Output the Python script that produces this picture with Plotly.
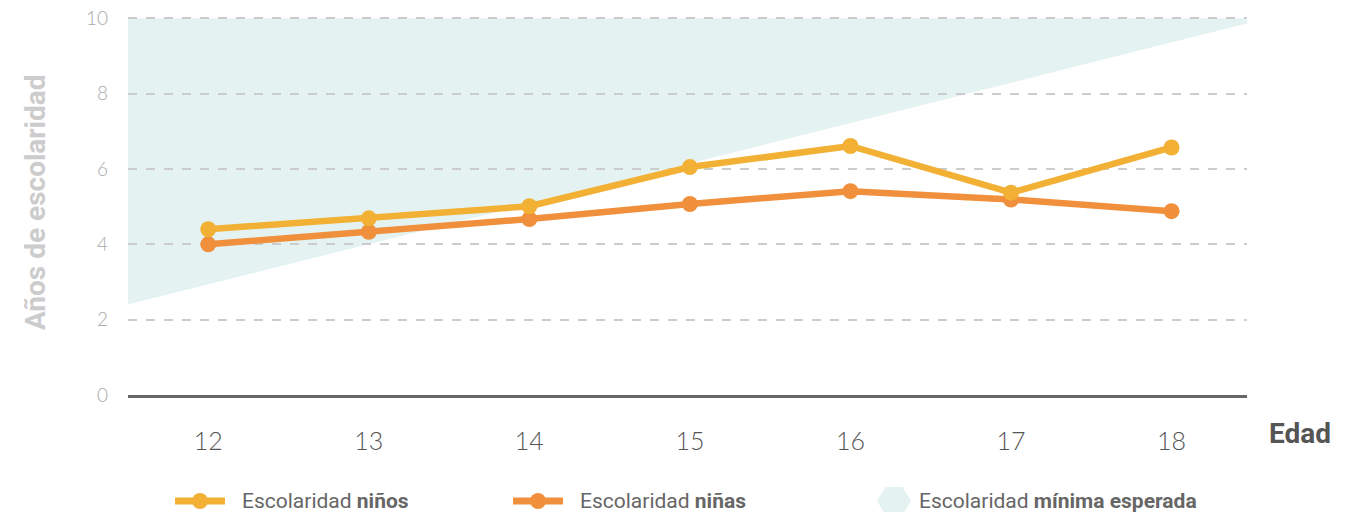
import plotly.graph_objects as go

# ---- data ----
edades = [12, 13, 14, 15, 16, 17, 18]
ninos = [4.40, 4.69, 5.01, 6.05, 6.61, 5.37, 6.57]
ninas = [4.00, 4.33, 4.67, 5.07, 5.41, 5.19, 4.88]
minimo_x = [11.50, 18.47, 18.47, 11.50]
minimo_y = [2.40, 9.86, 10.0, 10.0]
y_ticks = [0, 2, 4, 6, 8, 10]

C_NINOS = "#f2b134"
C_NINAS = "#f0903c"
C_MIN = "#e4f3f2"

# the page body keeps its default 8px margin: size the figure to fit inside the window
OFF = 8
W, H = 1346 - 2 * OFF, 520 - 2 * OFF
L, R, T, B = 128 - OFF, 99 - OFF, 16 - OFF, 125 - OFF
PW = W - L - R
PH = H - T - B


def px(x):
    return (x - OFF - L) / PW


def py(y):
    return (H - B - (y - OFF)) / PH


fig = go.Figure()
fig.add_trace(go.Scatter(x=edades, y=ninas, mode="lines+markers",
                         line=dict(color=C_NINAS, width=6.5),
                         marker=dict(color=C_NINAS, size=16), showlegend=False,
                         name="Escolaridad niñas"))
fig.add_trace(go.Scatter(x=edades, y=ninos, mode="lines+markers",
                         line=dict(color=C_NINOS, width=6.5),
                         marker=dict(color=C_NINOS, size=16), showlegend=False,
                         name="Escolaridad niños"))

shapes = []
annotations = []

# minimum expected schooling area, drawn beneath the grid lines
path = "M " + " L ".join(f"{x} {y}" for x, y in zip(minimo_x, minimo_y)) + " Z"
shapes.append(dict(type="path", xref="x", yref="y", path=path, layer="below",
                   fillcolor=C_MIN, line=dict(width=0)))

leg_y = py(501)
for cx, col, txt in [(200, C_NINOS, "Escolaridad <b>niños</b>"),
                     (538, C_NINAS, "Escolaridad <b>niñas</b>")]:
    shapes.append(dict(type="line", xref="paper", yref="paper",
                       x0=px(cx - 25), x1=px(cx + 25), y0=leg_y, y1=leg_y,
                       line=dict(color=col, width=7)))
    shapes.append(dict(type="circle", xref="paper", yref="paper",
                       xsizemode="pixel", ysizemode="pixel",
                       xanchor=px(cx), yanchor=leg_y,
                       x0=-8, x1=8, y0=-8, y1=8,
                       fillcolor=col, line=dict(width=0)))
    annotations.append(dict(xref="paper", yref="paper", x=px(cx + 40), y=leg_y,
                            xanchor="left", yanchor="middle", showarrow=False,
                            text=txt, font=dict(family="Roboto", size=21, color="#666666")))

shapes.append(dict(type="path", xref="paper", yref="paper",
                   xsizemode="pixel", ysizemode="pixel",
                   xanchor=px(894), yanchor=leg_y,
                   path="M -17 0 L -8.5 14 L 8.5 14 L 17 0 L 8.5 -14 L -8.5 -14 Z",
                   fillcolor=C_MIN, line=dict(width=0)))
annotations.append(dict(xref="paper", yref="paper", x=px(917), y=leg_y,
                        xanchor="left", yanchor="middle", showarrow=False,
                        text="Escolaridad <b>mínima esperada</b>",
                        font=dict(family="Roboto", size=21, color="#666666")))

annotations.append(dict(xref="paper", yref="paper", x=px(1300), y=py(433),
                        xanchor="center", yanchor="middle", showarrow=False,
                        text="<b>Edad</b>",
                        font=dict(family="Roboto", size=28, color="#555555")))
annotations.append(dict(xref="paper", yref="paper", x=px(35), y=py(202),
                        xanchor="center", yanchor="middle", showarrow=False,
                        textangle=-90, text="<b>Años de escolaridad</b>",
                        font=dict(family="Roboto", size=28, color="#cccccc")))

fig.update_layout(
    width=W, height=H,
    margin=dict(l=L, r=R, t=T, b=B, pad=0),
    plot_bgcolor="white", paper_bgcolor="white",
    showlegend=False,
    shapes=shapes, annotations=annotations,
    xaxis=dict(range=[11.50, 18.47], tickvals=edades, ticktext=[str(e) for e in edades],
               showgrid=False, zeroline=False, showline=True, automargin=False,
               linecolor="#666666", linewidth=2.5, ticks="",
               ticklabelstandoff=22,
               tickfont=dict(family="Lato", size=25, color="#555555", weight=300)),
    yaxis=dict(range=[0, 10.06], tickvals=y_ticks, ticktext=[str(v) for v in y_ticks],
               showgrid=True, gridcolor="#cccccc", gridwidth=1.5, griddash="dash",
               zeroline=False, showline=False, ticks="", ticklabelstandoff=19,
               ticklabeloverflow="allow", automargin=False,
               tickfont=dict(family="Lato", size=19, color="#aaaaaa", weight=300)),
)

fig.write_html("out.html", config={"displayModeBar": False})
